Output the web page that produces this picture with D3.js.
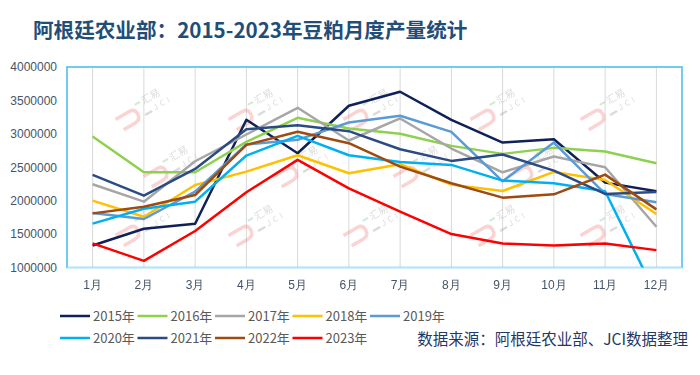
<!DOCTYPE html>
<html>
<head>
<meta charset="utf-8">
<script src="https://cdn.jsdelivr.net/npm/d3@7"></script>
<style>
  html, body { margin: 0; padding: 0; background: #fff; }
  svg { display: block; font-family: "Noto Sans CJK SC", "Noto Sans", sans-serif; }
</style>
</head>
<body>
<div id="chart"></div>
<script>
// months on the category axis
var months = ["1月", "2月", "3月", "4月", "5月", "6月", "7月", "8月", "9月", "10月", "11月", "12月"];
var yTicks = [1000000, 1500000, 2000000, 2500000, 3000000, 3500000, 4000000];

// monthly soymeal output (tonnes)
var y2015 = [1330000, 1580000, 1655000, 3210000, 2710000, 3420000, 3630000, 3210000, 2870000, 2920000, 2270000, 2140000];
var y2016 = [2960000, 2425000, 2425000, 2880000, 3240000, 3080000, 3000000, 2820000, 2700000, 2790000, 2735000, 2560000];
var y2017 = [2245000, 1985000, 2590000, 2990000, 3390000, 2900000, 3230000, 2780000, 2425000, 2660000, 2500000, 1610000];
var y2018 = [2000000, 1760000, 2235000, 2435000, 2680000, 2410000, 2545000, 2240000, 2145000, 2430000, 2310000, 1800000];
var y2019 = [1815000, 1726000, 2135000, 2840000, 2910000, 3170000, 3270000, 3030000, 2290000, 2870000, 2100000, 1975000];
var y2020 = [1656000, 1880000, 1985000, 2675000, 2970000, 2680000, 2580000, 2535000, 2300000, 2260000, 2140000, 580000];
var y2021 = [2385000, 2075000, 2475000, 3070000, 3130000, 3040000, 2770000, 2595000, 2690000, 2450000, 2100000, 2130000];
var y2022 = [1810000, 1910000, 2085000, 2835000, 3030000, 2860000, 2510000, 2260000, 2045000, 2095000, 2390000, 1870000];
var y2023 = [1360000, 1100000, 1546000, 2125000, 2610000, 2185000, 1835000, 1500000, 1360000, 1330000, 1360000, 1260000];

var seriesNames = ["2015年", "2016年", "2017年", "2018年", "2019年", "2020年", "2021年", "2022年", "2023年"];
var seriesValues = [y2015, y2016, y2017, y2018, y2019, y2020, y2021, y2022, y2023];
var seriesColors = ["#0E2158", "#8ED14F", "#A6A6A6", "#FFC000", "#5B9BD5", "#00B0F0", "#2B4B82", "#9E4A10", "#FF0000"];

var W = 700, H = 375;
var plot = { left: 67, top: 67, right: 682, bottom: 267.5 };

var svg = d3.select("#chart").append("svg")
    .attr("width", W)
    .attr("height", H);

var x = d3.scaleBand().domain(months).range([plot.left, plot.right]).padding(0);
var y = d3.scaleLinear().domain([1000000, 4000000]).range([plot.bottom, plot.top]);
function cx(m) { return x(m) + x.bandwidth() / 2; }

// Title
svg.append("text")
    .attr("x", 33)
    .attr("y", 38)
    .attr("fill", "#1F4E79")
    .attr("font-size", "20.6px")
    .attr("font-weight", "bold")
    .text("阿根廷农业部：2015-2023年豆粕月度产量统计");

// vertical gridlines at each month
svg.append("g").selectAll("line")
    .data(months)
    .enter().append("line")
    .attr("x1", cx).attr("x2", cx)
    .attr("y1", plot.top).attr("y2", plot.bottom)
    .attr("stroke", "#D9D9D9")
    .attr("stroke-width", 1);

// watermarks
var marks = [[140, 110], [253, 110], [368, 110], [495, 110], [605, 110],
             [168, 167], [298, 167], [418, 167], [533, 167],
             [140, 226], [253, 226], [368, 226], [495, 226], [605, 226]];
var wm = svg.append("g").attr("opacity", 0.35);
marks.forEach(function (p) {
    var g = wm.append("g").attr("transform", "translate(" + p[0] + "," + p[1] + ") rotate(-30)");
    g.append("path")
        .attr("d", "M-26,-4 L-10,-4 Q-4,-4 -4,2 Q-4,9 -11,9 L-24,9")
        .attr("fill", "none")
        .attr("stroke", "#F08080")
        .attr("stroke-width", 3.5);
    g.append("line")
        .attr("x1", -2).attr("x2", 4).attr("y1", -7).attr("y2", -7)
        .attr("stroke", "#7CC47C").attr("stroke-width", 2);
    g.append("text")
        .attr("x", 6).attr("y", -3)
        .attr("font-size", "10px")
        .attr("fill", "#999")
        .text("汇易");
    g.append("text")
        .attr("x", 2).attr("y", 8)
        .attr("font-size", "8px")
        .attr("letter-spacing", "3px")
        .attr("fill", "#999")
        .text("▬JCI");
});

// plot area border
svg.append("rect")
    .attr("x", plot.left).attr("y", plot.top)
    .attr("width", plot.right - plot.left)
    .attr("height", plot.bottom - plot.top)
    .attr("fill", "none")
    .attr("stroke", "#45BCEB")
    .attr("stroke-width", 1.5);

// category axis line
svg.append("line")
    .attr("x1", plot.left).attr("x2", plot.right)
    .attr("y1", plot.bottom).attr("y2", plot.bottom)
    .attr("stroke", "#D9D9D9");

// Y axis labels
var yAxis = svg.append("g")
    .attr("transform", "translate(" + (plot.left - 10) + ",0)")
    .call(d3.axisLeft(y).tickValues(yTicks).tickSize(0).tickFormat(d3.format("d")));
yAxis.select(".domain").remove();
yAxis.selectAll("text")
    .attr("x", 0)
    .attr("fill", "#44546A")
    .attr("font-size", "12px")
    .attr("font-family", "'Liberation Sans', Arial, sans-serif");

// X axis labels
var xAxis = svg.append("g")
    .attr("transform", "translate(0," + plot.bottom + ")")
    .call(d3.axisBottom(x).tickSize(0));
xAxis.select(".domain").remove();
xAxis.selectAll("text")
    .attr("y", 13)
    .attr("fill", "#44546A")
    .attr("font-size", "12px");

// lines
svg.append("clipPath").attr("id", "plotClip")
    .append("rect")
    .attr("x", plot.left).attr("y", plot.top)
    .attr("width", plot.right - plot.left)
    .attr("height", plot.bottom - plot.top);

var line = d3.line()
    .x(function (d, i) { return cx(months[i]); })
    .y(function (d) { return y(d); });

svg.append("g")
    .attr("clip-path", "url(#plotClip)")
    .selectAll("path")
    .data(seriesValues)
    .enter().append("path")
    .attr("d", line)
    .attr("fill", "none")
    .attr("stroke", function (d, i) { return seriesColors[i]; })
    .attr("stroke-width", 2.5)
    .attr("stroke-linejoin", "round");

// legend
var legend = svg.append("g");
seriesNames.forEach(function (name, i) {
    var row = i < 5 ? 0 : 1;
    var col = i < 5 ? i : i - 5;
    var lx = 60 + col * 77.5;
    var ly = row === 0 ? 316 : 338;
    legend.append("line")
        .attr("x1", lx).attr("x2", lx + 30)
        .attr("y1", ly).attr("y2", ly)
        .attr("stroke", seriesColors[i])
        .attr("stroke-width", 2.5);
    legend.append("text")
        .attr("x", lx + 33)
        .attr("y", ly)
        .attr("dy", "0.35em")
        .attr("fill", "#595959")
        .attr("font-size", "13px")
        .text(name);
});

// source note
svg.append("text")
    .attr("x", 688)
    .attr("y", 340)
    .attr("dy", "0.35em")
    .attr("text-anchor", "end")
    .attr("fill", "#1F3864")
    .attr("font-size", "15.5px")
    .text("数据来源：阿根廷农业部、JCI数据整理");
</script>
</body>
</html>
